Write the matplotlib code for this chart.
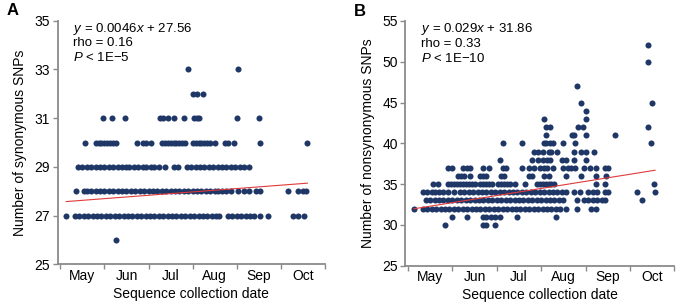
import matplotlib
matplotlib.use("Agg")
import matplotlib.pyplot as plt
import numpy as np

plt.rcParams["font.family"] = ["Liberation Sans", "DejaVu Sans"]
plt.rcParams["mathtext.fontset"] = "custom"
plt.rcParams["mathtext.rm"] = "Liberation Sans"
plt.rcParams["mathtext.it"] = "Liberation Sans:italic"

MONTHS = ["May", "Jun", "Jul", "Aug", "Sep", "Oct"]

# panel A: synonymous SNPs, days since 1 May for each count
a26 = [38]
a27 = [4, 10, 13, 16, 19, 22, 25, 28, 31, 34, 37, 40, 43, 46, 49, 52, 55, 58, 61, 64,
       67, 70, 73, 76, 79, 82, 85, 88, 91, 94, 97, 100, 103, 106, 108, 114, 117, 120,
       123, 126, 129, 132, 136, 141, 158, 162, 166]
a28 = [11, 16, 18, 21, 24, 27, 30, 33, 36, 39, 42, 45, 48, 51, 54, 57, 60, 63, 66, 69,
       72, 75, 78, 81, 84, 87, 90, 93, 96, 99, 102, 105, 107, 110, 113, 116, 121, 125,
       128, 133, 136, 155, 162, 165, 167]
a29 = [12, 15, 18, 21, 24, 27, 30, 33, 36, 39, 42, 45, 47, 50, 53, 56, 58, 62, 64, 67,
       71, 77, 80, 86, 89, 92, 95, 98, 101, 104, 107, 110, 113, 116, 119, 122, 125, 128]
a30 = [17, 24, 26, 28, 30, 32, 34, 36, 38, 52, 56, 58, 62, 69, 71, 73, 75, 77, 79, 81,
       83, 85, 90, 92, 94, 96, 98, 100, 102, 105, 112, 114, 118, 136, 168]
a31 = [29, 35, 44, 68, 70, 73, 77, 84, 91, 93, 94, 120, 135]
a32 = [90, 93, 97]
a33 = [87, 121]

# panel B: nonsynonymous SNPs
b30 = [25, 51, 53, 59]
b31 = [30, 40, 51, 53, 56, 59, 62, 74, 100]
b32 = [4, 10, 13, 16, 19, 22, 25, 28, 31, 34, 37, 40, 43, 46, 49, 52, 55, 58, 61, 64,
       67, 70, 73, 76, 79, 82, 85, 88, 91, 94, 97, 100, 103, 107, 114, 124, 127]
b33 = [12, 15, 18, 21, 24, 27, 30, 33, 36, 39, 42, 45, 48, 51, 54, 57, 60, 63, 66, 69,
       72, 75, 78, 81, 84, 87, 90, 93, 96, 99, 102, 105, 114, 119, 122, 125, 128, 131,
       133, 158]
b34 = [10, 13, 16, 18, 21, 24, 27, 31, 35, 38, 41, 44, 47, 50, 53, 56, 59, 62, 65, 68,
       71, 74, 77, 80, 83, 86, 89, 92, 95, 98, 101, 104, 107, 112, 116, 122, 125, 128,
       133, 135, 155, 167]
b35 = [17, 20, 27, 29, 31, 33, 35, 37, 39, 41, 43, 45, 49, 51, 53, 55, 57, 61, 63, 65,
       67, 69, 72, 79, 87, 89, 91, 93, 95, 97, 99, 127, 133, 166]
b36 = [34, 36, 38, 42, 49, 51, 53, 63, 65, 82, 84, 92, 95, 107, 117, 127, 134]
b37 = [27, 30, 37, 40, 42, 51, 55, 64, 66, 77, 82, 85, 89, 92, 94, 98, 105, 108, 110,
       113, 119, 123, 127, 133, 135]
b38 = [62, 84, 88, 91, 94, 96, 104, 107, 112, 120]
b39 = [85, 88, 91, 95, 97, 101, 112, 117, 120, 126]
b40 = [64, 77, 92, 93, 96, 98, 105, 113, 164]
b41 = [93, 111, 112, 120, 140]
b42 = [93, 96, 115, 118, 162]
b43 = [92, 120]
b44 = [120]
b45 = [117, 165]
b47 = [114]
b50 = [162]
b52 = [162]

fit_a = (0.0046, 27.56)
fit_b = (0.029, 31.86)

rows_a = [(26, a26), (27, a27), (28, a28), (29, a29), (30, a30), (31, a31), (32, a32), (33, a33)]
rows_b = [(30, b30), (31, b31), (32, b32), (33, b33), (34, b34), (35, b35), (36, b36),
          (37, b37), (38, b38), (39, b39), (40, b40), (41, b41), (42, b42), (43, b43),
          (44, b44), (45, b45), (47, b47), (50, b50), (52, b52)]

DOT = "#1f3766"
RED = "#e03a3a"
GREY = "#8a8a8a"


def to_xy(rows):
    x, y = [], []
    for v, days in rows:
        x += days
        y += [v] * len(days)
    return np.array(x), np.array(y)


def panel(ax, rows, fit, ylim, yticks, ylabel, lines, letter):
    x, y = to_xy(rows)
    ax.scatter(x, y, s=19, color=DOT, linewidths=0, zorder=3)
    xx = np.array([x.min(), x.max()])
    ax.plot(xx, fit[0] * xx + fit[1], color=RED, lw=0.8, zorder=4)
    ax.set_xlim(-1.8, 180)
    ax.set_ylim(*ylim)
    ax.set_yticks(yticks)
    ax.set_xticks(np.arange(0, 181, 30))
    ax.set_xticklabels([])
    ax.set_xticks(np.arange(15, 180, 30), minor=True)
    ax.set_xticklabels(MONTHS, minor=True)
    ax.tick_params(axis="x", which="minor", length=0, labelsize=10, pad=3)
    ax.tick_params(axis="x", which="major", length=3.5, width=1, color=GREY)
    ax.tick_params(axis="y", length=3.5, width=1, color=GREY, labelsize=10, pad=2)
    for s in ("top", "right"):
        ax.spines[s].set_visible(False)
    for s in ("left", "bottom"):
        ax.spines[s].set_color(GREY)
        ax.spines[s].set_linewidth(1.3)
    ax.set_xlabel("Sequence collection date", fontsize=10, labelpad=3)
    ax.set_ylabel(ylabel, fontsize=10, labelpad=5)
    for t, yy in zip(lines, (0.966, 0.908, 0.848)):
        ax.text(0.058, yy, t, transform=ax.transAxes, fontsize=9.5, va="center")
    ax.text(-0.19, 1.04, letter, transform=ax.transAxes, fontsize=12,
            fontweight="bold", va="center")


fig = plt.figure(figsize=(6.77, 3.03), dpi=100)
ax1 = fig.add_axes([0.0852, 0.1274, 0.3948, 0.8043])
ax2 = fig.add_axes([0.5987, 0.1231, 0.3973, 0.8076])

panel(ax1, rows_a, fit_a, (25, 35), [25, 27, 29, 31, 33, 35],
      "Number of synonymous SNPs",
      [r"$y$ = 0.0046$x$ + 27.56", "rho = 0.16", "$P$ < 1E\u22125"], "A")
panel(ax2, rows_b, fit_b, (25, 55), [25, 30, 35, 40, 45, 50, 55],
      "Number of nonsynonymous SNPs",
      [r"$y$ = 0.029$x$ + 31.86", "rho = 0.33", "$P$ < 1E\u221210"], "B")

fig.savefig("out.png", dpi=100)
